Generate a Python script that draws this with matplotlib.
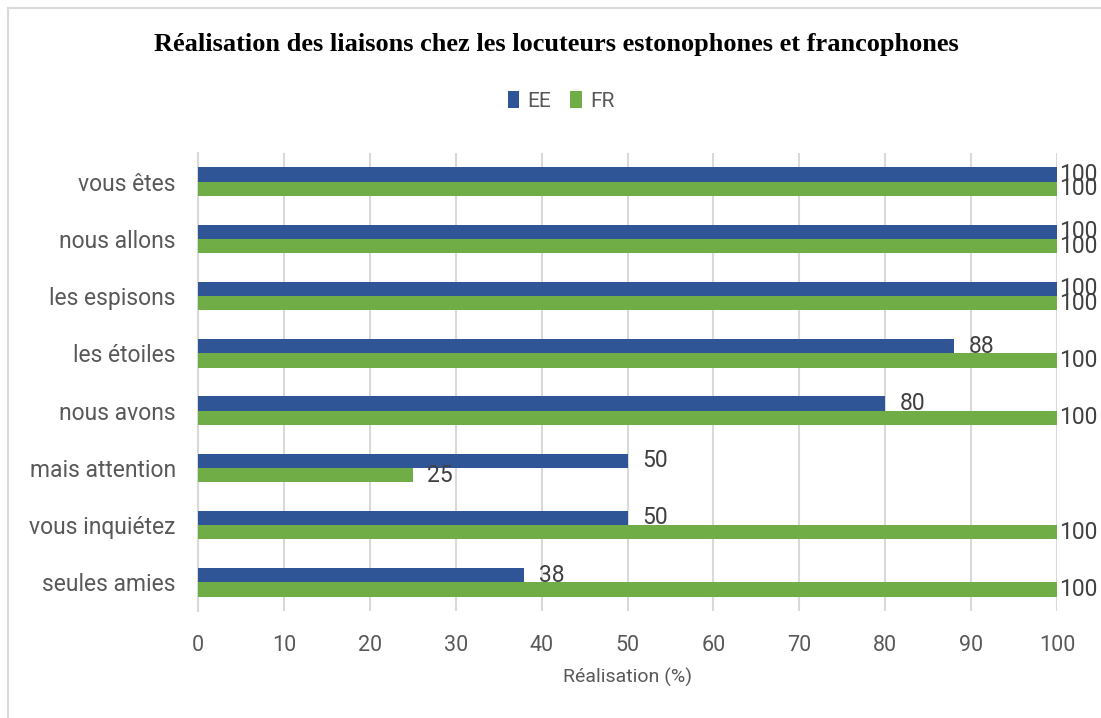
import matplotlib
matplotlib.use('Agg')
import matplotlib.pyplot as plt
import numpy as np
from matplotlib.lines import Line2D

categories = ["vous êtes", "nous allons", "les espisons", "les étoiles",
              "nous avons", "mais attention", "vous inquiétez", "seules amies"]
ee_values = [100, 100, 100, 88, 80, 50, 50, 38]
fr_values = [100, 100, 100, 100, 100, 25, 100, 100]
series_names = ["EE", "FR"]
x_ticks = [0, 10, 20, 30, 40, 50, 60, 70, 80, 90, 100]
title = "Réalisation des liaisons chez les locuteurs estonophones et francophones"
x_label = "Réalisation (%)"

C_EE = "#2F5597"
C_FR = "#70AD47"
GRID = "#D9D9D9"
TXT = "#595959"
LBL = "#404040"
FONT = "Roboto"

W, H = 1101, 718
fig = plt.figure(figsize=(W / 100, H / 100), dpi=100)
fig.patch.set_facecolor("white")

# outer chart border (left and top visible)
fig.add_artist(Line2D([8 / W, 8 / W], [0, 1 - 8 / H], transform=fig.transFigure,
                      color=GRID, lw=1.5))
fig.add_artist(Line2D([8 / W, 1], [1 - 8 / H, 1 - 8 / H], transform=fig.transFigure,
                      color=GRID, lw=1.5))

left, right, top, bottom = 198, 1057, 153, 611
ax = fig.add_axes([left / W, 1 - bottom / H, (right - left) / W, (bottom - top) / H])

y = np.arange(len(categories))
h = 0.25
b1 = ax.barh(y - h / 2, ee_values, height=h, color=C_EE, label=series_names[0], zorder=3)
b2 = ax.barh(y + h / 2, fr_values, height=h, color=C_FR, label=series_names[1], zorder=3)

ax.set_xlim(0, 100)
ax.set_ylim(len(categories) - 0.5, -0.5)
ax.set_xticks(x_ticks)
ax.set_xticklabels([str(t) for t in x_ticks], fontsize=15.5, color=TXT, family=FONT)
ax.set_yticks(y)
ax.set_yticklabels(categories, fontsize=16.5, color=TXT, family=FONT)
ax.tick_params(axis="both", length=0)
ax.tick_params(axis="x", pad=17)
ax.tick_params(axis="y", pad=16)
ax.grid(axis="x", color=GRID, lw=1.5, zorder=0)
ax.set_axisbelow(True)
for s in ["top", "right", "bottom"]:
    ax.spines[s].set_visible(False)
ax.spines["left"].set_color(GRID)
ax.spines["left"].set_linewidth(1.5)

ax.set_xlabel(x_label, fontsize=14, color=TXT, family=FONT, labelpad=9)

for bars, vals in ((b1, ee_values), (b2, fr_values)):
    for bar, v in zip(bars, vals):
        off = 1.5 if v >= 100 else 10.5
        ax.annotate(str(v), (bar.get_width(), bar.get_y() + bar.get_height() / 2),
                    xytext=(off, 0), textcoords="offset points",
                    ha="left", va="center", fontsize=16.5, color=LBL, family=FONT,
                    annotation_clip=False, zorder=4)

fig.text(556 / W, 1 - 45 / H, title, ha="center", va="center",
         fontsize=19, fontweight="bold", family="Liberation Serif", color="black")

leg = fig.legend(handles=[b1, b2], labels=series_names, loc="center",
                 bbox_to_anchor=(561 / W, 1 - 101 / H), ncol=2, frameon=False,
                 handlelength=0.55, handleheight=0.9, handletextpad=0.4,
                 columnspacing=0.9, prop={"family": FONT, "size": 15})
for t in leg.get_texts():
    t.set_color(TXT)

fig.savefig("out.png", dpi=100, facecolor="white")
